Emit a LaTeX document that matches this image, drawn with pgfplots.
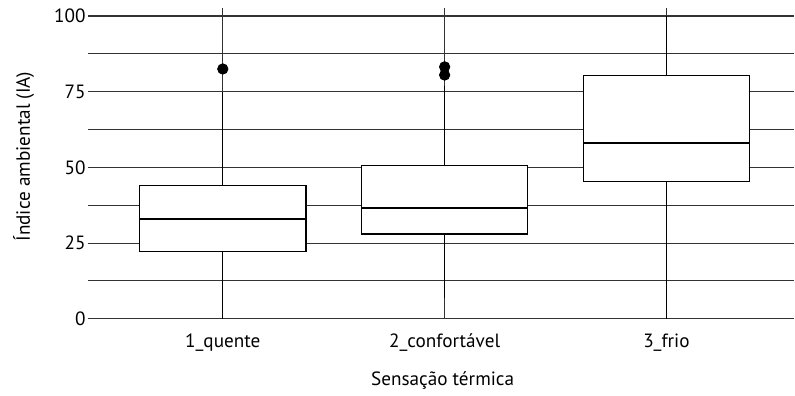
\documentclass[border=0pt]{standalone}
\usepackage{fontspec}
\setmainfont{PT Sans}
\usepackage{pgfplots}
\pgfplotsset{compat=1.18}
\usepgfplotslibrary{statistics}

\begin{document}
\begin{tikzpicture}
\fontsize{9.6pt}{11.5pt}\selectfont
\begin{axis}[
    width=353.5pt, height=155.5pt, scale only axis,
    xmin=0.392, xmax=3.577,
    ymin=0, ymax=102.64,
    axis line style={draw=none},
    tick style={draw=none},
    xtick={1,2,3},
    xticklabels={1\_quente, 2\_confortável, 3\_frio},
    ytick={0,25,50,75,100},
    minor ytick={12.5,37.5,62.5,87.5},
    ymajorgrids, yminorgrids, xmajorgrids,
    major grid style={black!80, line width=0.55pt},
    minor grid style={black!80, line width=0.55pt},
    /pgf/number format/assume math mode=true,
    yticklabel style={inner xsep=1pt},
    xticklabel style={yshift=-4pt},
    ylabel={Índice ambiental (IA)},
    xlabel={Sensação térmica},
    ylabel style={at={(axis description cs:-0.091,0.522)}, anchor=center},
    xlabel style={at={(axis description cs:0.502,-0.199)}, anchor=center},
    boxplot/draw direction=y,
    boxplot/box extend=0.75,
    boxplot/whisker extend=0,
    boxplot/every box/.style={fill=white, draw=black, line width=0.55pt},
    boxplot/every whisker/.style={black, line width=0.6pt},
    boxplot/every median/.style={black, line width=1.1pt},
]
\addplot[black, mark=*, mark size=2.6pt, mark options={fill=black},
    boxplot prepared={draw position=1,
        lower whisker=0, lower quartile=22.1, median=33.0,
        upper quartile=43.9, upper whisker=75}]
    table[row sep=\\, y index=0] {y\\ 82.5\\};
\addplot[black, mark=*, mark size=2.6pt, mark options={fill=black},
    boxplot prepared={draw position=2,
        lower whisker=6.9, lower quartile=28.0, median=36.6,
        upper quartile=50.5, upper whisker=77}]
    table[row sep=\\, y index=0] {y\\ 83.2\\ 80.5\\};
\addplot[black,
    boxplot prepared={draw position=3,
        lower whisker=0, lower quartile=45.2, median=58.1,
        upper quartile=80.2, upper whisker=100}]
    coordinates {};
\end{axis}
\path ([xshift=-44pt, yshift=-37pt]current axis.south west)
      ([yshift=4pt]current axis.north east);
\end{tikzpicture}
\end{document}
